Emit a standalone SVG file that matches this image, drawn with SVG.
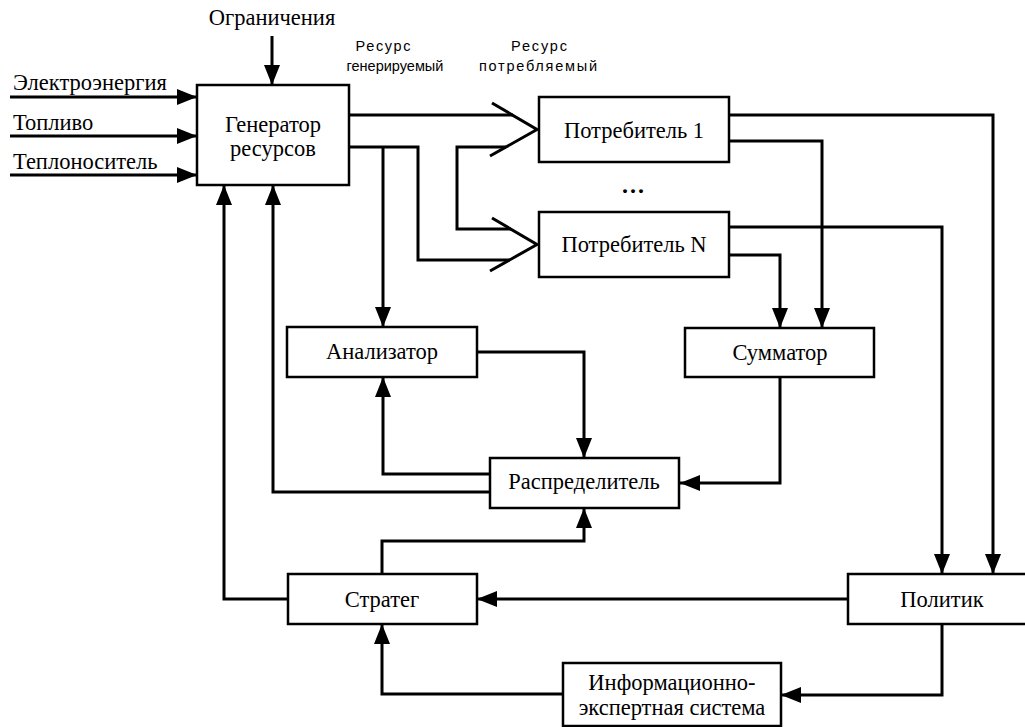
<svg xmlns="http://www.w3.org/2000/svg" width="1025" height="727" viewBox="0 0 1025 727">
<style>
  .box { fill: #fff; stroke: #000; stroke-width: 2.5; }
  .ln { fill: none; stroke: #000; stroke-width: 3; stroke-linejoin: miter; }
  .arr { fill: none; stroke: #000; stroke-width: 3; marker-end: url(#ah); }
  .t { font-family: "Liberation Serif", "Times New Roman", serif; font-size: 22.5px; fill: #000; }
  .c { text-anchor: middle; }
  .s { font-family: "Liberation Sans", Arial, sans-serif; font-size: 14.5px; fill: #000; text-anchor: middle; }
</style>
<defs>
  <marker id="ah" viewBox="0 0 20 16" markerWidth="20" markerHeight="16" refX="20" refY="8" orient="auto" markerUnits="userSpaceOnUse">
    <path d="M0,0 L20,8 L0,16 z" fill="#000"/>
  </marker>
</defs>
<rect width="1025" height="727" fill="#fff"/>

<g id="connectors">
  <!-- inputs -->
  <path class="arr" d="M10,97 H197"/>
  <path class="arr" d="M10,136 H197"/>
  <path class="arr" d="M10,175 H197"/>
  <path class="arr" d="M272,36 V85"/>
  <!-- generator to consumers -->
  <path class="ln" d="M349,115 H513"/>
  <path class="ln" d="M349,147 H418 V260 H510"/>
  <path class="ln" d="M506,147 H457 V229 H511"/>
  <polyline class="ln" points="492,103 537,129.5 490,156"/>
  <polyline class="ln" points="492,218 537,244.5 490,271"/>
  <!-- generator to analyzer -->
  <path class="arr" d="M383,147 V327"/>
  <!-- consumers to summator / politician -->
  <path class="arr" d="M729,115 H993 V574"/>
  <path class="arr" d="M729,141 H822 V328"/>
  <path class="arr" d="M729,227 H942 V574"/>
  <path class="arr" d="M729,255 H780 V328"/>
  <!-- summator to distributor -->
  <path class="arr" d="M780,377 V483 H680"/>
  <!-- analyzer to distributor -->
  <path class="arr" d="M477,352 H584 V458"/>
  <!-- distributor to analyzer -->
  <path class="arr" d="M490,474 H383 V377"/>
  <!-- distributor to generator -->
  <path class="arr" d="M490,492 H273 V185"/>
  <!-- strateg to generator -->
  <path class="arr" d="M288,599 H224 V185"/>
  <!-- strateg to distributor -->
  <path class="arr" d="M382,574 V541 H584 V508"/>
  <!-- politician to strateg -->
  <path class="arr" d="M848,599 H477"/>
  <!-- politician to expert system -->
  <path class="arr" d="M942,624 V695 H781"/>
  <!-- expert system to strateg -->
  <path class="arr" d="M563,694 H382 V624"/>
</g>

<g id="labels">
  <text class="t" x="13" y="90">Электроэнергия</text>
  <text class="t" x="13" y="130">Топливо</text>
  <text class="t" x="13" y="169">Теплоноситель</text>
  <text class="t c" x="272" y="25">Ограничения</text>
  <text class="s" x="383" y="51" textLength="55" lengthAdjust="spacing">Ресурс</text>
  <text class="s" x="395" y="71">генерируемый</text>
  <text class="s" x="539" y="51" textLength="56" lengthAdjust="spacing">Ресурс</text>
  <text class="s" x="538" y="71" textLength="118" lengthAdjust="spacing">потребляемый</text>
  <text class="t c" x="634" y="193" style="font-weight:bold;font-size:24px;letter-spacing:2px">...</text>
</g>

<g id="generator">
  <rect class="box" x="197" y="85" width="152" height="100"/>
  <text class="t c" x="273" y="132">Генератор</text>
  <text class="t c" x="273" y="156">ресурсов</text>
</g>
<g id="consumer1">
  <rect class="box" x="539" y="97" width="190" height="65"/>
  <text class="t c" x="634" y="138">Потребитель 1</text>
</g>
<g id="consumerN">
  <rect class="box" x="539" y="212" width="190" height="65"/>
  <text class="t c" x="634" y="252">Потребитель N</text>
</g>
<g id="analyzer">
  <rect class="box" x="287" y="327" width="190" height="50"/>
  <text class="t c" x="382" y="359">Анализатор</text>
</g>
<g id="summator">
  <rect class="box" x="685" y="328" width="189" height="49"/>
  <text class="t c" x="780" y="360">Сумматор</text>
</g>
<g id="distributor">
  <rect class="box" x="490" y="458" width="189" height="50"/>
  <text class="t c" x="584" y="489">Распределитель</text>
</g>
<g id="strateg">
  <rect class="box" x="288" y="574" width="189" height="50"/>
  <text class="t c" x="382" y="607">Стратег</text>
</g>
<g id="politician">
  <rect class="box" x="848" y="574" width="190" height="50"/>
  <text class="t c" x="942" y="607">Политик</text>
</g>
<g id="expert">
  <rect class="box" x="563" y="663" width="218" height="63"/>
  <text class="t c" x="672" y="690">Информационно-</text>
  <text class="t c" x="672" y="715">экспертная система</text>
</g>
</svg>
